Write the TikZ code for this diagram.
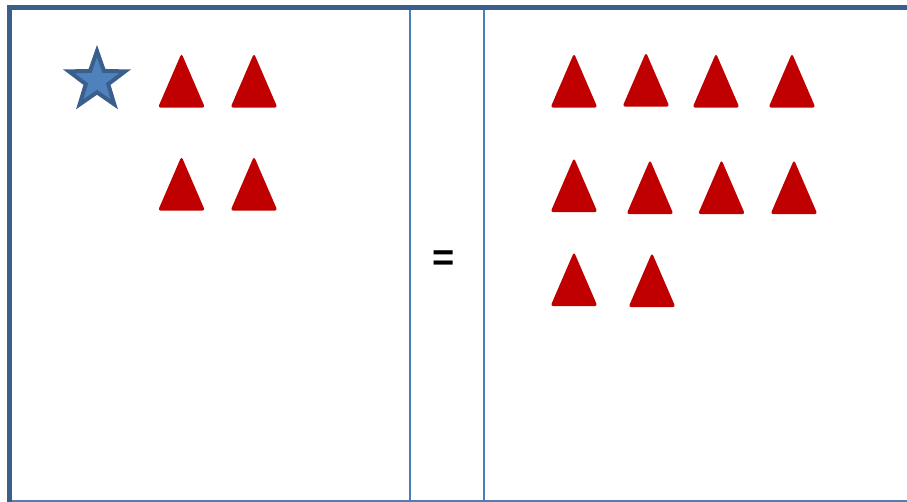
\documentclass[tikz,border=0pt]{standalone}
\usepackage{fontspec}
\setmainfont{Liberation Sans}
\usetikzlibrary{shapes.geometric}

\definecolor{frameblue}{HTML}{3A5F8B}
\definecolor{lineblue}{HTML}{4A7EBB}
\definecolor{starfill}{HTML}{4F81BD}
\definecolor{tryred}{HTML}{C00000}

\tikzset{
  frame/.style={frameblue, line width=5pt, line join=miter},
  divider/.style={lineblue, line width=1.8pt},
  tri/.pic={\fill[tryred, rounded corners=2.8pt] (-23.5,27.2) -- (0,-27.2) -- (23.5,27.2) -- cycle;},
}

\begin{document}
\begin{tikzpicture}[x=1pt, y=-1pt]
  \useasboundingbox (0,0) rectangle (907,502);

  % frame and dividers
  \coordinate (frameBL) at (9.5,503);
  \coordinate (frameTL) at (9.5,7.6);
  \coordinate (frameTR) at (908,7.6);
  \coordinate (baseL) at (9.5,501);
  \coordinate (baseR) at (908,501);
  \coordinate (divAtop) at (410,7.6);
  \coordinate (divAbot) at (410,503);
  \coordinate (divBtop) at (484,7.6);
  \coordinate (divBbot) at (484,503);
  \draw[lineblue!80!gray, line width=1.5pt] (baseL) -- (baseR);
  \draw[divider] (divAtop) -- (divAbot);
  \draw[divider] (divBtop) -- (divBbot);
  \draw[frame] (frameBL) -- (frameTL) -- (frameTR);

  % left side
  \node[star, star points=5, star point ratio=2.5, minimum size=59pt, inner sep=0pt,
        draw=frameblue, fill=starfill, line width=4pt] (star) at (97,80.5) {};
  \pic (l1) at (181.5,80.5) {tri};
  \pic (l2) at (254,80.5) {tri};
  \pic (l3) at (181.5,183.5) {tri};
  \pic (l4) at (254,183.5) {tri};

  % equals
  \node[inner sep=0pt, font=\fontsize{38}{38}\selectfont\bfseries] (eq) at (443.5,261) {=};

  % right side
  \pic (r1) at (574,80.5) {tri};
  \pic (r2) at (646,79.5) {tri};
  \pic (r3) at (716,80.5) {tri};
  \pic (r4) at (792,80.5) {tri};
  \pic (r5) at (574,185) {tri};
  \pic (r6) at (650,187) {tri};
  \pic (r7) at (721.5,187) {tri};
  \pic (r8) at (794,187) {tri};
  \pic (r9) at (574,279) {tri};
  \pic (r10) at (652,280) {tri};
\end{tikzpicture}
\end{document}
